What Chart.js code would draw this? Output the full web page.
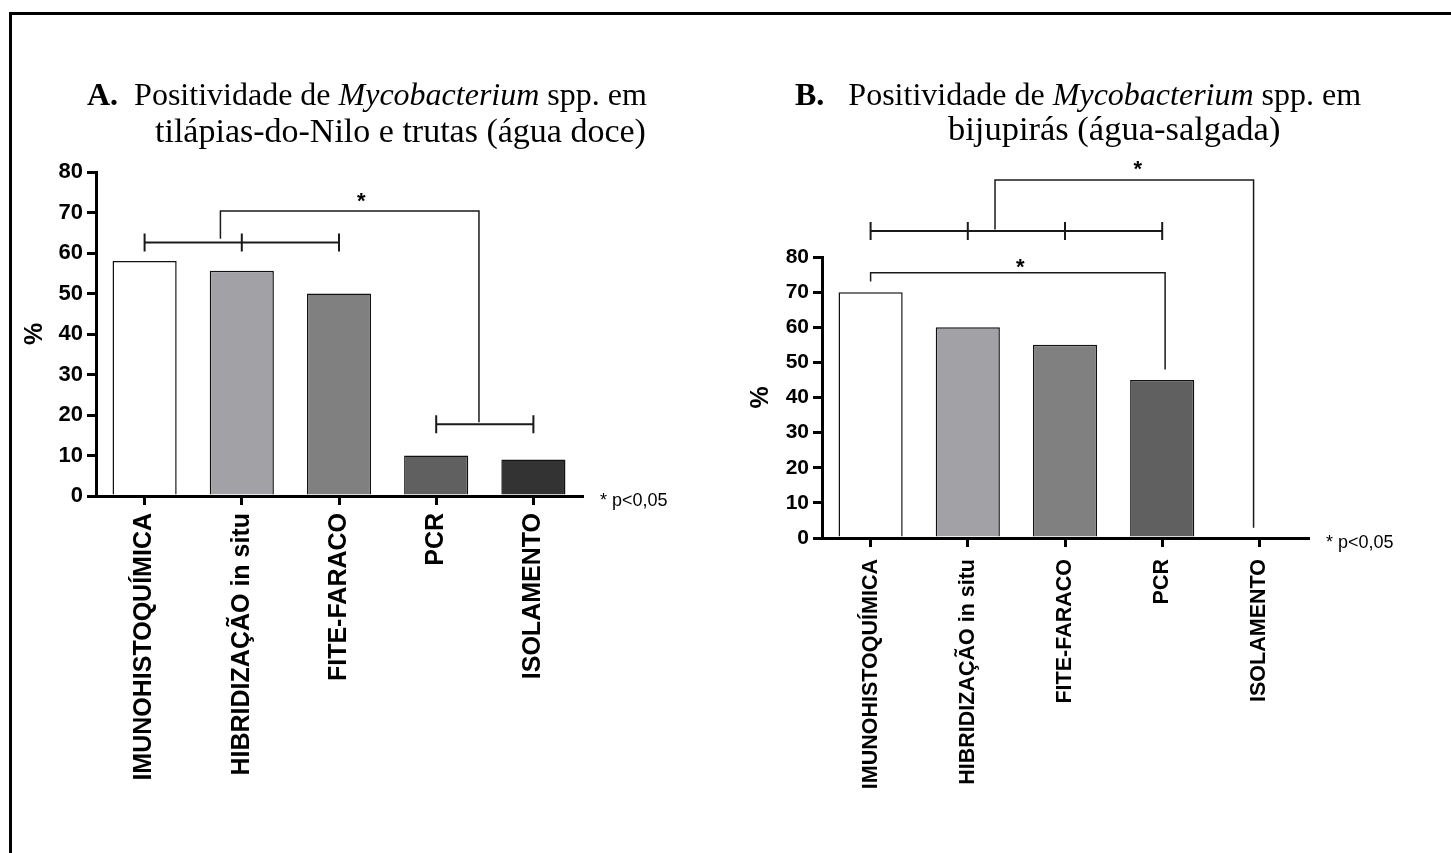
<!DOCTYPE html>
<html>
<head>
<meta charset="utf-8">
<script src="https://cdn.jsdelivr.net/npm/chart.js@4.4.0/dist/chart.umd.min.js"></script>
<style>
  html, body { margin: 0; padding: 0; background: #fff; }
  body { width: 1451px; height: 853px; position: relative; overflow: hidden; }
  .frame { position: absolute; left: 9px; top: 12px; width: 1500px; height: 900px; border-left: 3px solid #000; border-top: 3px solid #000; }
  .box { position: absolute; top: 0; height: 853px; }
  #boxA { left: 0; width: 700px; }
  #boxB { left: 700px; width: 751px; }
</style>
</head>
<body>
<div class="frame"></div>
<div class="box" id="boxA"><canvas id="chartA"></canvas></div>
<div class="box" id="boxB"><canvas id="chartB"></canvas></div>
<script>
const categories = ['IMUNOHISTOQUÍMICA', 'HIBRIDIZAÇÃO in situ', 'FITE-FARACO', 'PCR', 'ISOLAMENTO'];
const freshwaterValues = [58, 55.6, 50, 10, 9];
const saltwaterValues = [70, 60, 55, 45, 0];
const barColors = ['#ffffff', '#a2a1a6', '#808080', '#606060', '#333333'];
const yMax = 80;
const yStep = 10;

const titleA = [
  [{ t: 'A.', s: 'bold' }, { t: '  Positividade de ', s: '' }, { t: 'Mycobacterium', s: 'italic' }, { t: ' spp. em', s: '' }],
  [{ t: 'tilápias-do-Nilo e trutas (água doce)', s: '' }],
];
const titleB = [
  [{ t: 'B.', s: 'bold' }, { t: '   Positividade de ', s: '' }, { t: 'Mycobacterium', s: 'italic' }, { t: ' spp. em', s: '' }],
  [{ t: 'bijupirás (água-salgada)', s: '' }],
];

// significance brackets, in category index / value units
const groupsA = [{ from: 0, to: 2, y: 62.6, marks: [0, 1, 2] }, { from: 3, to: 4, y: 17.7, marks: [3, 4] }];
const linksA = [{ x1: 0.78, y1: 63.5, x2: 3.44, y2: 18.2, top: 70.4 }];
const starsA = [{ x: 2.23, y: 73.6 }];

const groupsB = [{ from: 0, to: 3, y: 87.4, marks: [0, 1, 2, 3] }];
const linksB = [
  { x1: 1.28, y1: 87.8, x2: 3.94, y2: 2.9, top: 101.9 },
  { x1: 0, y1: 73, x2: 3.03, y2: 48, top: 75.5 },
];
const starsB = [{ x: 2.75, y: 105.8 }, { x: 1.54, y: 77.9 }];

const SERIF = '"Liberation Serif", "Times New Roman", serif';
const SANS = '"Liberation Sans", Arial, sans-serif';

const annotate = {
  id: 'annotate',
  afterDraw(chart, args, opts) {
    const ctx = chart.ctx;
    const xs = chart.scales.x, ys = chart.scales.y;
    const x0 = xs.getPixelForValue(0);
    const step = xs.getPixelForValue(1) - x0;
    const px = i => x0 + i * step;
    const py = v => ys.getPixelForValue(v);
    ctx.save();
    ctx.strokeStyle = '#1a1a1a';

    ctx.lineWidth = 2;
    opts.groups.forEach(g => {
      ctx.beginPath();
      ctx.moveTo(px(g.from), py(g.y));
      ctx.lineTo(px(g.to), py(g.y));
      g.marks.forEach(m => {
        ctx.moveTo(px(m), py(g.y) - 9);
        ctx.lineTo(px(m), py(g.y) + 9);
      });
      ctx.stroke();
    });

    ctx.lineWidth = 1.5;
    opts.links.forEach(l => {
      ctx.beginPath();
      ctx.moveTo(px(l.x1), py(l.y1));
      ctx.lineTo(px(l.x1), py(l.top));
      ctx.lineTo(px(l.x2), py(l.top));
      ctx.lineTo(px(l.x2), py(l.y2));
      ctx.stroke();
    });

    ctx.fillStyle = '#000';
    ctx.textAlign = 'center';
    ctx.textBaseline = 'middle';
    ctx.font = 'bold 22px ' + SANS;
    opts.stars.forEach(s => ctx.fillText('*', px(s.x), py(s.y) + 4));

    ctx.textAlign = 'left';
    ctx.font = '18px ' + SANS;
    ctx.fillText('* p<0,05', chart.chartArea.right + 18, chart.chartArea.bottom + 5);

    // title lines
    ctx.textBaseline = 'alphabetic';
    opts.title.forEach((line, li) => {
      let x = opts.titleX[li];
      line.forEach(seg => {
        ctx.font = (seg.s ? seg.s + ' ' : '') + opts.titleSize[li] + 'px ' + SERIF;
        ctx.fillText(seg.t, x, opts.titleY[li]);
        x += ctx.measureText(seg.t).width;
      });
    });
    ctx.restore();
  }
};

function makeChart(id, values, o) {
  return new Chart(document.getElementById(id), {
    type: 'bar',
    data: {
      labels: categories,
      datasets: [{
        data: values,
        backgroundColor: barColors,
        borderColor: '#111',
        borderWidth: 1.5,
        barPercentage: 0.66,
        categoryPercentage: 1,
      }],
    },
    options: {
      responsive: true,
      maintainAspectRatio: false,
      animation: false,
      layout: { padding: o.padding },
      plugins: {
        legend: { display: false },
        tooltip: { enabled: false },
        annotate: o.annotate,
      },
      scales: {
        x: {
          grid: { offset: false, drawOnChartArea: false, drawTicks: true, tickLength: 9, color: '#000', lineWidth: 3 },
          border: { display: true, color: '#000', width: 3 },
          ticks: {
            autoSkip: false, minRotation: 90, maxRotation: 90, padding: o.xPad, color: '#000',
            font: { family: SANS, weight: 'bold', size: o.xFont },
          },
          afterFit: s => { s.height = 300; },
        },
        y: {
          min: 0, max: yMax,
          grid: { drawOnChartArea: false, drawTicks: true, tickLength: 9, color: '#000', lineWidth: 3 },
          border: { display: true, color: '#000', width: 3 },
          ticks: {
            stepSize: yStep, padding: 4, color: '#000',
            font: { family: SANS, weight: 'bold', size: o.yFont },
          },
          title: { display: true, text: '%', color: '#000', padding: 0, font: { family: SANS, weight: 'bold', size: 25 } },
          afterFit: s => { s.width = 76; },
        },
      },
    },
    plugins: [annotate],
  });
}

makeChart('chartA', freshwaterValues, {
  padding: { left: 20, right: 118, top: 172, bottom: 57 },
  xFont: 25, yFont: 22, xPad: 8,
  annotate: {
    groups: groupsA, links: linksA, stars: starsA,
    title: titleA, titleX: [87, 155], titleY: [105, 142], titleSize: [32, 34],
  },
});

makeChart('chartB', saltwaterValues, {
  padding: { left: 46, right: 143, top: 257, bottom: 15 },
  xFont: 21.5, yFont: 21, xPad: 12,
  annotate: {
    groups: groupsB, links: linksB, stars: starsB,
    title: titleB, titleX: [95, 248], titleY: [105, 140], titleSize: [32, 34.5],
  },
});
</script>
</body>
</html>
